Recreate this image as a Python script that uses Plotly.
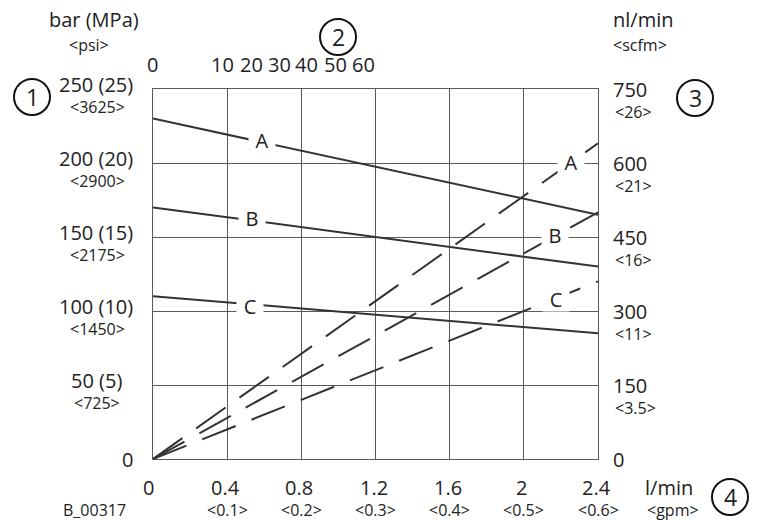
import plotly.graph_objects as go

# ---------------- data ----------------
flow_lpm = [0, 2.4]                       # l/min (x axis)
pressure_A = [230, 165]                   # bar, solid lines
pressure_B = [170, 130]
pressure_C = [110, 85]
airflow_A = [0, 640]                      # nl/min, dashed lines
airflow_B = [0, 500]
airflow_C = [0, 360]

x_ticks = [0, 0.4, 0.8, 1.2, 1.6, 2.0, 2.4]
x_labels = ["0", "0.4", "0.8", "1.2", "1.6", "2", "2.4"]
x_sub_labels = ["", "<0.1>", "<0.2>", "<0.3>", "<0.4>", "<0.5>", "<0.6>"]

y_ticks = [0, 50, 100, 150, 200, 250]
y_labels = ["0", "50 (5)", "100 (10)", "150 (15)", "200 (20)", "250 (25)"]
y_sub_labels = ["", "<725>", "<1450>", "<2175>", "<2900>", "<3625>"]

y2_ticks = [0, 150, 300, 450, 600, 750]
y2_labels = ["0", "150", "300", "450", "600", "750"]
y2_sub_labels = ["", "<3.5>", "<11>", "<16>", "<21>", "<26>"]

top_ticks = [0, 0.38, 0.535, 0.685, 0.835, 0.99, 1.14]
top_labels = ["0", "10", "20", "30", "40", "50", "60"]

FONT = "Open Sans"
INK = "#222222"
LINE = "#333333"
GRID = "#5a5a5a"

# plot area in pixels
L, R, T, B = 153, 598, 89, 459
W, H = R - L, B - T


def px(xp, yp):
    return (xp - L) / W, (B - yp) / H


fig = go.Figure()
for ys in (pressure_A, pressure_B, pressure_C):
    fig.add_trace(go.Scatter(x=flow_lpm, y=ys, mode="lines",
                             line=dict(color=LINE, width=2), hoverinfo="skip",
                             showlegend=False))
for ys in (airflow_A, airflow_B, airflow_C):
    fig.add_trace(go.Scatter(x=flow_lpm, y=ys, mode="lines", yaxis="y2",
                             line=dict(color=LINE, width=2, dash="36px,17px"),
                             hoverinfo="skip", showlegend=False))

ann = []
main = dict(size=20, color=INK, family=FONT)
sub = dict(size=16, color=INK, family=FONT)

# left axis labels
for v, t, s in zip(y_ticks, y_labels, y_sub_labels):
    if v == 0:
        ann.append(dict(x=0, xref="paper", y=v, yref="y", text=t, showarrow=False,
                        xshift=-26, font=main, xanchor="center", yanchor="middle"))
        continue
    ann.append(dict(x=0, xref="paper", y=v, yref="y", text=t, showarrow=False,
                    xshift=-57, yshift=5, font=main, xanchor="center", yanchor="middle"))
    ann.append(dict(x=0, xref="paper", y=v, yref="y", text=s, showarrow=False,
                    xshift=-56, yshift=-18, font=sub, xanchor="center", yanchor="middle"))

# right axis labels
for v, t, s in zip(y2_ticks, y2_labels, y2_sub_labels):
    ann.append(dict(x=1, xref="paper", y=v, yref="y2", text=t, showarrow=False,
                    xshift=13, yshift=0, font=main, xanchor="left", yanchor="middle"))
    if s:
        ann.append(dict(x=1, xref="paper", y=v, yref="y2", text=s, showarrow=False,
                        xshift=15, yshift=-23, font=sub, xanchor="left", yanchor="middle"))

# bottom axis labels
for v, t, s in zip(x_ticks, x_labels, x_sub_labels):
    ann.append(dict(x=v, xref="x", y=0, yref="paper", text=t, showarrow=False,
                    xshift=-5 if v == 0 else -2, yshift=-28, font=main,
                    xanchor="center", yanchor="middle"))
    if s:
        ann.append(dict(x=v, xref="x", y=0, yref="paper", text=s, showarrow=False,
                        yshift=-51, font=sub, xanchor="center", yanchor="middle"))

# top axis labels
for v, t in zip(top_ticks, top_labels):
    ann.append(dict(x=v, xref="x", y=1, yref="paper", text=t, showarrow=False,
                    xshift=-1, yshift=25, font=main, xanchor="center", yanchor="middle"))

# axis titles and misc text
def text_at(xp, yp, t, font, anchor="center"):
    x, y = px(xp, yp)
    ann.append(dict(x=x, y=y, xref="paper", yref="paper", text=t, showarrow=False,
                    font=font, xanchor=anchor, yanchor="middle"))

text_at(94, 20, "bar (MPa)", main)
text_at(89, 45, "&lt;psi&gt;", sub)
text_at(611, 20, "nl/min", main, "left")
text_at(611, 45, "&lt;scfm&gt;", sub, "left")
text_at(669, 487, "l/min", main)
text_at(673, 510, "&lt;gpm&gt;", sub)
text_at(94, 510, "B_00317", sub)

# curve labels with white boxes
def curve_label(xp, yp, t):
    x, y = px(xp, yp)
    ann.append(dict(x=x, y=y, xref="paper", yref="paper", text=t, showarrow=False,
                    font=main, bgcolor="white", width=24, height=22,
                    xanchor="center", yanchor="middle"))

curve_label(262, 140, "A")
curve_label(252, 218, "B")
curve_label(250, 306, "C")
curve_label(571, 162, "A")
curve_label(555, 235, "B")
curve_label(556, 299, "C")

# circled numbers
shapes = []
for (cx, cy, n) in [(32, 97, "1"), (338, 37, "2"), (695, 98, "3"), (730, 497, "4")]:
    x, y = px(cx, cy)
    shapes.append(dict(type="circle", xref="paper", yref="paper",
                       xsizemode="pixel", ysizemode="pixel", xanchor=x, yanchor=y,
                       x0=-18, x1=18, y0=-18, y1=18,
                       line=dict(color="#111111", width=2)))
    ann.append(dict(x=x, y=y, xref="paper", yref="paper", text=n, showarrow=False,
                    font=dict(size=23, color=INK, family=FONT),
                    xanchor="center", yanchor="middle"))

axis_common = dict(showgrid=True, gridcolor=GRID, gridwidth=1, showline=True,
                   linecolor=GRID, linewidth=1, mirror=True, zeroline=False,
                   showticklabels=False, ticks="", fixedrange=True)

fig.update_layout(
    width=757, height=520,
    margin=dict(l=L, r=757 - R, t=T, b=520 - B, pad=0),
    paper_bgcolor="white", plot_bgcolor="white",
    xaxis=dict(range=[0, 2.4], tickvals=x_ticks, **axis_common),
    yaxis=dict(range=[0, 250], tickvals=y_ticks, **axis_common),
    yaxis2=dict(range=[0, 750], overlaying="y", side="right", showgrid=False,
                showline=False, zeroline=False, showticklabels=False, ticks="",
                fixedrange=True),
    annotations=ann, shapes=shapes, showlegend=False,
)

fig.write_html("out.html")
